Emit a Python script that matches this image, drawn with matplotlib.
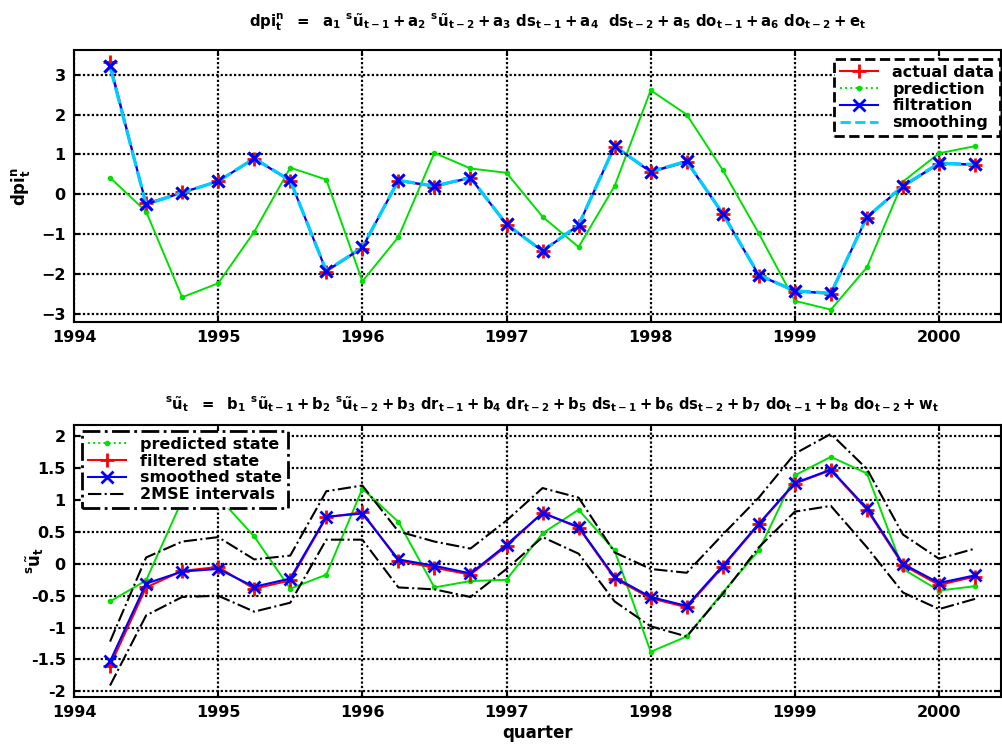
import matplotlib
matplotlib.use("Agg")
import matplotlib.pyplot as plt
from matplotlib.lines import Line2D

plt.rcParams['font.family'] = ['DejaVu Sans']
plt.rcParams['font.weight'] = 'bold'
plt.rcParams['mathtext.fontset'] = 'custom'
plt.rcParams['mathtext.rm'] = 'DejaVu Sans:bold'
plt.rcParams['mathtext.it'] = 'DejaVu Sans:bold'
plt.rcParams['mathtext.bf'] = 'DejaVu Sans:bold'
plt.rcParams['mathtext.sf'] = 'DejaVu Sans:bold'
plt.rcParams['mathtext.default'] = 'rm'
plt.rcParams['legend.fancybox'] = False

# ---------------- data ----------------
quarters = [1994.25, 1994.50, 1994.75, 1995.00, 1995.25, 1995.50, 1995.75,
            1996.00, 1996.25, 1996.50, 1996.75, 1997.00, 1997.25, 1997.50,
            1997.75, 1998.00, 1998.25, 1998.50, 1998.75, 1999.00, 1999.25,
            1999.50, 1999.75, 2000.00, 2000.25]

# top panel: dpi
actual_data = [3.32, -0.22, 0.06, 0.33, 0.88, 0.33, -1.94, -1.36, 0.33, 0.19, 0.40,
               -0.77, -1.43, -0.79, 1.19, 0.55, 0.80, -0.50, -2.04, -2.44, -2.50,
               -0.58, 0.18, 0.76, 0.73]
prediction = [0.42, -0.43, -2.58, -2.23, -0.94, 0.67, 0.37, -2.18, -1.07, 1.04, 0.65,
              0.54, -0.56, -1.32, 0.21, 2.61, 2.00, 0.61, -0.98, -2.67, -2.89,
              -1.83, 0.32, 1.03, 1.21]
filtration = [3.21, -0.25, 0.04, 0.33, 0.90, 0.35, -1.92, -1.33, 0.35, 0.21, 0.42,
              -0.75, -1.42, -0.77, 1.21, 0.57, 0.83, -0.48, -2.02, -2.42, -2.48,
              -0.57, 0.21, 0.78, 0.75]
smoothing = [3.21, -0.25, 0.04, 0.33, 0.90, 0.35, -1.92, -1.33, 0.35, 0.21, 0.42,
             -0.75, -1.42, -0.77, 1.21, 0.57, 0.83, -0.48, -2.02, -2.42, -2.48,
             -0.57, 0.21, 0.78, 0.75]

# bottom panel: state
predicted_state = [-0.59, -0.26, 1.00, 1.05, 0.43, -0.39, -0.17, 1.18, 0.66, -0.37, -0.27,
                   -0.25, 0.48, 0.85, 0.21, -1.38, -1.14, -0.45, 0.21, 1.39, 1.68,
                   1.42, -0.08, -0.42, -0.35]
filtered_state = [-1.60, -0.37, -0.11, -0.05, -0.39, -0.26, 0.73, 0.81, 0.05, -0.06, -0.17,
                  0.28, 0.80, 0.57, -0.23, -0.54, -0.68, -0.05, 0.62, 1.26, 1.47,
                  0.85, -0.02, -0.33, -0.20]
smoothed_state = [-1.53, -0.31, -0.12, -0.08, -0.36, -0.23, 0.74, 0.79, 0.07, -0.03, -0.15,
                  0.30, 0.80, 0.58, -0.21, -0.52, -0.66, -0.03, 0.63, 1.27, 1.48,
                  0.87, 0.00, -0.30, -0.18]
mse_upper = [-1.22, 0.10, 0.35, 0.42, 0.07, 0.13, 1.14, 1.23, 0.51, 0.35, 0.24,
             0.68, 1.19, 1.04, 0.18, -0.08, -0.14, 0.46, 1.04, 1.73, 2.04,
             1.49, 0.46, 0.08, 0.24]
mse_lower = [-1.91, -0.81, -0.52, -0.50, -0.75, -0.61, 0.38, 0.38, -0.37, -0.40, -0.52,
             -0.08, 0.42, 0.16, -0.59, -0.98, -1.14, -0.47, 0.26, 0.82, 0.91,
             0.26, -0.45, -0.71, -0.55]

year_ticks = [1994, 1995, 1996, 1997, 1998, 1999, 2000]
top_yticks = [-3, -2, -1, 0, 1, 2, 3]
bot_yticks = [-2, -1.5, -1, -0.5, 0, 0.5, 1, 1.5, 2]
bot_yticklabels = ['-2', '-1.5', '-1', '-0.5', '0', '0.5', '1', '1.5', '2']

# ---------------- figure ----------------
W, H = 1003, 745
fig = plt.figure(figsize=(W / 100, H / 100), dpi=100)

def fig_rect(l, t, r, b):
    return [l / W, 1 - b / H, (r - l) / W, (b - t) / H]

ax1 = fig.add_axes(fig_rect(74, 50, 1001, 322))
ax2 = fig.add_axes(fig_rect(74, 425, 1001, 697))

TICK_FS = 11.5
grid_kw = dict(color='black', linestyle=(0, (1, 1)), linewidth=1.6)

def style(ax, yticks, yticklabels=None):
    ax.set_xlim(1994, 2000.43)
    ax.set_xticks(year_ticks)
    ax.set_yticks(yticks)
    if yticklabels is not None:
        ax.set_yticklabels(yticklabels)
    ax.grid(True, **grid_kw)
    ax.set_axisbelow(True)
    ax.tick_params(direction='in', top=True, right=True, length=4, width=1.5,
                   labelsize=TICK_FS, pad=6)
    for lab in ax.get_xticklabels() + ax.get_yticklabels():
        lab.set_fontweight('bold')
    for s in ax.spines.values():
        s.set_linewidth(1.5)
        s.set_color('black')

# ---- top panel ----
ax1.plot(quarters, prediction, color='#00e000', lw=1.4, marker='.', ms=6, zorder=3)
ax1.plot(quarters, actual_data, color='red', lw=1.0, marker='+', ms=10, mew=2, zorder=4)
ax1.plot(quarters, filtration, color='blue', lw=1.5, marker='x', ms=9, mew=2, zorder=5)
ax1.plot(quarters, smoothing, color='#00ccff', lw=2.4, ls=(0, (5, 1.5)), zorder=6)
ax1.plot(quarters, filtration, color='blue', lw=0, marker='x', ms=9, mew=2, zorder=7)
ax1.set_ylim(-3.2, 3.62)
style(ax1, top_yticks)
ax1.set_ylabel(r"$dpi_t^n$", fontsize=12)
ax1.yaxis.set_label_coords(-0.045, 0.5)

h_top = [Line2D([], [], color='red', lw=1.5, marker='+', ms=10, mew=2),
         Line2D([], [], color='#00e000', lw=1.4, ls=':', marker='.', ms=6),
         Line2D([], [], color='blue', lw=1.5, marker='x', ms=9, mew=2),
         Line2D([], [], color='#00ccff', lw=2.0, ls='--')]
leg1 = ax1.legend(h_top, ['actual data', 'prediction', 'filtration', 'smoothing'],
                  loc='upper right', bbox_to_anchor=(1000 / W, 1 - 59 / H),
                  bbox_transform=fig.transFigure, borderaxespad=0,
                  fontsize=11.5, handlelength=2.4, handletextpad=0.9,
                  labelspacing=0.12, borderpad=0.35, framealpha=1)
fr = leg1.get_frame()
fr.set_edgecolor('black'); fr.set_linewidth(2.0); fr.set_linestyle('--')
leg1.set_zorder(20)

# ---- bottom panel ----
ax2.plot(quarters, predicted_state, color='#00e000', lw=1.4, marker='.', ms=6, zorder=3)
ax2.plot(quarters, mse_upper, color='black', lw=1.5, ls='-.', zorder=3)
ax2.plot(quarters, mse_lower, color='black', lw=1.5, ls='-.', zorder=3)
ax2.plot(quarters, filtered_state, color='red', lw=1.5, marker='+', ms=10, mew=2, zorder=4)
ax2.plot(quarters, smoothed_state, color='blue', lw=1.5, marker='x', ms=9, mew=2, zorder=5)
ax2.set_ylim(-2.09, 2.18)
style(ax2, bot_yticks, bot_yticklabels)
ax2.set_ylabel(r"${}^s\tilde{u}_t$", fontsize=12)
ax2.yaxis.set_label_coords(-0.03, 0.5)
ax2.set_xlabel('quarter', fontsize=12, fontweight='bold', labelpad=3)

h_bot = [Line2D([], [], color='#00e000', lw=1.4, ls=':', marker='.', ms=6),
         Line2D([], [], color='red', lw=1.5, marker='+', ms=10, mew=2),
         Line2D([], [], color='blue', lw=1.5, marker='x', ms=9, mew=2),
         Line2D([], [], color='black', lw=1.5, ls='-.')]
leg2 = ax2.legend(h_bot, ['predicted state', 'filtered state', 'smoothed state', '2MSE intervals'],
                  loc='upper left', bbox_to_anchor=(82 / W, 1 - 431 / H),
                  bbox_transform=fig.transFigure, borderaxespad=0,
                  fontsize=11.5, handlelength=2.4, handletextpad=0.9,
                  labelspacing=0.12, borderpad=0.35, framealpha=1)
fr = leg2.get_frame()
fr.set_edgecolor('black'); fr.set_linewidth(2.0); fr.set_linestyle('-.')
leg2.set_zorder(20)

# ---- titles ----
top_title = (r"$dpi_t^n\ \ =\ \ a_1\ {}^s\tilde{u}_{t-1} + a_2\ {}^s\tilde{u}_{t-2}"
             r" + a_3\ ds_{t-1} + a_4\ \ ds_{t-2} + a_5\ do_{t-1} + a_6\ do_{t-2} + e_t$")
bot_title = (r"${}^s\tilde{u}_t\ \ =\ \ b_1\ {}^s\tilde{u}_{t-1} + b_2\ {}^s\tilde{u}_{t-2}"
             r" + b_3\ dr_{t-1} + b_4\ dr_{t-2} + b_5\ ds_{t-1} + b_6\ ds_{t-2}"
             r" + b_7\ do_{t-1} + b_8\ do_{t-2} + w_t$")
fig.text(558 / W, 1 - 22 / H, top_title, ha='center', va='center', fontsize=10.7)
fig.text(552 / W, 1 - 404 / H, bot_title, ha='center', va='center', fontsize=10.6)

fig.savefig('out.png', dpi=100)
